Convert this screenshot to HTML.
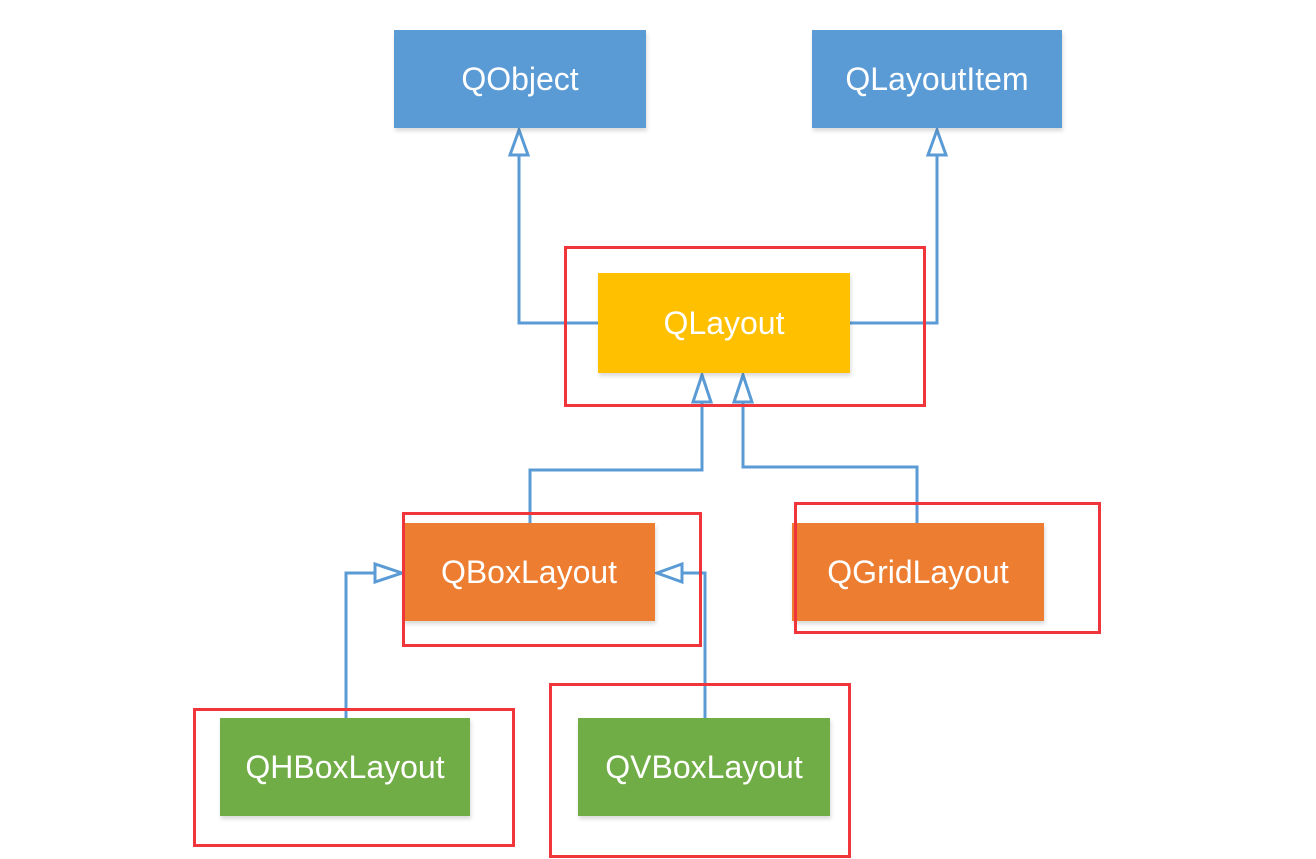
<!DOCTYPE html>
<html><head><style>
body{margin:0;width:1316px;height:859px;background:#fff;position:relative;overflow:hidden;font-family:"Liberation Sans Narrow","Liberation Sans",sans-serif}
.b{position:absolute;color:#fff;font-size:32px;display:flex;align-items:center;justify-content:center;box-shadow:1px 3px 4px rgba(0,0,0,0.15)}
.r{position:absolute;border:3px solid #f0363a;box-sizing:border-box}
svg{position:absolute;left:0;top:0}
</style></head><body>
<svg width="1316" height="859">
<g fill="none" stroke="#5b9bd5" stroke-width="3">
<polyline points="598,323 519,323 519,155"/>
<polyline points="850,323 937,323 937,155"/>
<polyline points="530,523 530,470 702,470 702,400"/>
<polyline points="917,523 917,467 743,467 743,400"/>
<polyline points="346,718 346,573 375,573"/>
<polyline points="705,718 705,573 682,573"/>
</g>
<g fill="#fff" stroke="#5b9bd5" stroke-width="3">
<polygon points="519,130 510,155 528,155"/>
<polygon points="937,130 928,155 946,155"/>
<polygon points="702,375 693,402 711,402"/>
<polygon points="743,375 734,402 752,402"/>
<polygon points="402,573 375,564 375,582"/>
<polygon points="657,573 682,564 682,582"/>
</g>
</svg>
<div class="b" style="left:394px;top:30px;width:252px;height:98px;background:#5b9bd5">QObject</div>
<div class="b" style="left:812px;top:30px;width:250px;height:98px;background:#5b9bd5">QLayoutItem</div>
<div class="b" style="left:598px;top:273px;width:252px;height:100px;background:#ffc000">QLayout</div>
<div class="b" style="left:403px;top:523px;width:252px;height:98px;background:#ed7d31">QBoxLayout</div>
<div class="b" style="left:792px;top:523px;width:252px;height:98px;background:#ed7d31">QGridLayout</div>
<div class="b" style="left:220px;top:718px;width:250px;height:98px;background:#70ad47">QHBoxLayout</div>
<div class="b" style="left:578px;top:718px;width:252px;height:98px;background:#70ad47">QVBoxLayout</div>
<div class="r" style="left:564px;top:246px;width:362px;height:161px"></div>
<div class="r" style="left:402px;top:512px;width:300px;height:135px"></div>
<div class="r" style="left:794px;top:502px;width:307px;height:132px"></div>
<div class="r" style="left:193px;top:708px;width:322px;height:139px"></div>
<div class="r" style="left:549px;top:683px;width:302px;height:175px"></div>
</body></html>
